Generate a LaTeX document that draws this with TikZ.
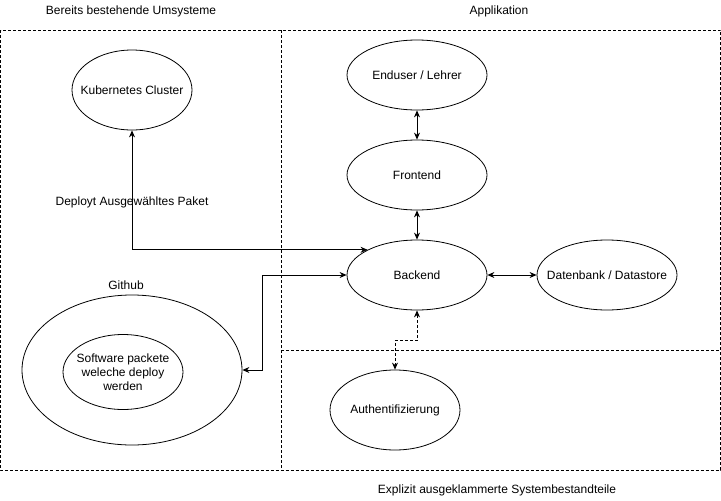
\documentclass[tikz,border=0pt]{standalone}
\usepackage{fontspec}
\setmainfont{Liberation Sans}
\usetikzlibrary{arrows.meta,shapes.geometric}

\begin{document}
\begin{tikzpicture}[x=1pt, y=-1pt, line width=0.8pt,
        every node/.style={font=\fontsize{12}{14}\selectfont},
        zone/.style={dashed, dash pattern=on 3pt off 2pt},
        blob/.style={ellipse, draw, inner sep=-30pt, minimum width=140pt, minimum height=70pt},
        link/.style={{Stealth[length=7pt,width=6pt]}-{Stealth[length=7pt,width=6pt]}}]
    \useasboundingbox (0,0) rectangle (721,501);

    % Bereiche
    \draw[zone] (0.5,30) rectangle (720.5,470);
    \draw[zone] (281,30) -- (281,470);
    \draw[zone] (281,350) -- (720.5,350);
    \node (titleleft) at (131,11) {Bereits bestehende Umsysteme};
    \node (titleapp) at (499,11) {Applikation};
    \node (titleout) at (497,490) {Explizit ausgeklammerte Systembestandteile};

    % Knoten
    \node[blob, minimum width=120pt, minimum height=80pt] (kube) at (132,90) {Kubernetes Cluster};
    \node[blob] (enduser) at (417,75) {Enduser / Lehrer};
    \node[blob] (frontend) at (417,175) {Frontend};
    \node[blob] (backend) at (417,275) {Backend};
    \node[blob] (datastore) at (607,275) {Datenbank / Datastore};
    \node[blob, minimum width=130pt, minimum height=80pt] (auth) at (395,410) {Authentifizierung};
    \node[blob, minimum width=220pt, minimum height=150pt] (github) at (132,370) {};
    \node[blob, minimum width=120pt, minimum height=75pt, align=center] (packages) at (123,372) {Software packete\\weleche deploy\\werden};
    \node (githublabel) at (126,285) {Github};

    % Verbindungen
    \draw[link] (enduser) -- (frontend);
    \draw[link] (frontend) -- (backend);
    \draw[link] (backend) -- (datastore);
    \draw[link] (kube.south) |- (backend.153) node[pos=0.3] (deploylabel) {Deployt Ausgewähltes Paket};
    \draw[link] (github.east) -- ++(20,0) |- (backend.west);
    \draw[link, zone] (backend.south) -- ++(0,30) -| (auth.north);
\end{tikzpicture}
\end{document}
